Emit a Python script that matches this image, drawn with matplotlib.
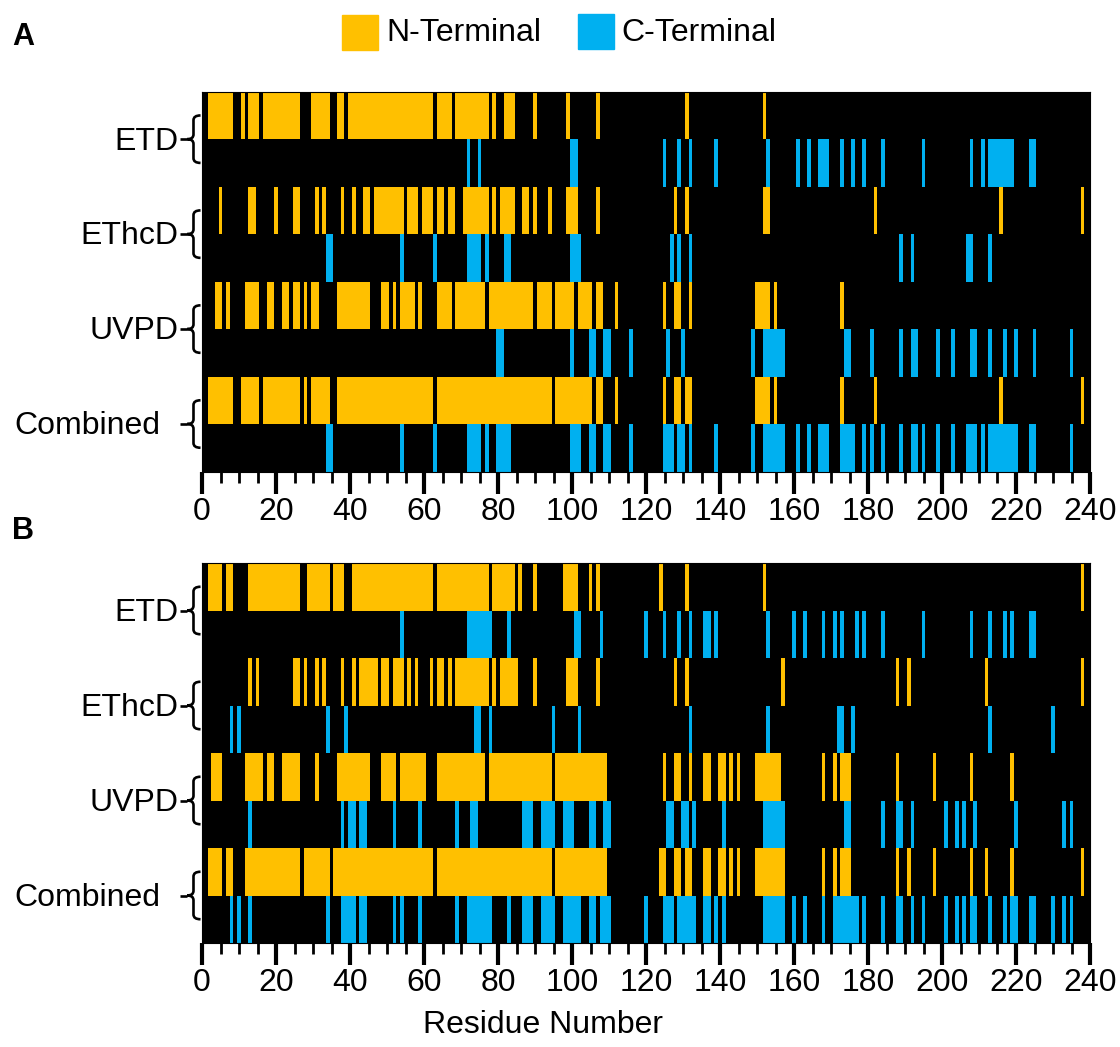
import matplotlib
matplotlib.use('Agg')
import matplotlib.pyplot as plt
from matplotlib.patches import Rectangle, PathPatch
from matplotlib.path import Path

N_COLOR = '#FFC000'
C_COLOR = '#00B0F0'
plt.rcParams['font.family'] = ['Liberation Sans', 'DejaVu Sans']
TEXT_SIZE = 23

methods = ['ETD', 'EThcD', 'UVPD', 'Combined']

# cleavage sites per row: single residue or (first, last) run
# --- panel A ---
a_etd_n = [(2, 8), 11, (13, 15), (17, 26), (30, 34), (37, 38), (40, 62), (64, 67), (69, 77), 79,
           (82, 84), 90, 99, 107, 131, 152]
a_etd_c = [72, 75, (100, 101), 125, 129, 132, 139, 153, 161, 164, (167, 169), 173, 176, 179, 184,
           195, 208, 211, (213, 219), (224, 225)]
a_ethcd_n = [5, (13, 14), 20, (25, 26), 31, 33, 38, 41, (44, 45), (47, 54), (56, 58), (60, 62),
             (64, 65), (67, 68), (71, 77), 79, (81, 84), (87, 88), 90, 94, (99, 101), 107, 128, 131,
             (152, 153), 182, 216, 238]
a_ethcd_c = [(34, 35), 54, 63, (72, 75), 77, (82, 83), (100, 102), 127, 129, 132, 189, 192,
             (207, 208), 213]
a_uvpd_n = [(4, 5), 7, (12, 15), (18, 19), (22, 23), (25, 26), 28, (30, 31), (37, 45), (49, 50), 52,
            (54, 57), 59, (64, 67), (69, 76), (78, 89), (91, 94), (96, 100), (102, 105), (107, 108),
            112, 125, (128, 129), 132, (150, 153), 155, 173]
a_uvpd_c = [(80, 81), 100, (105, 106), (109, 110), 116, 126, 130, 149, (152, 157), (174, 175), 181,
            189, (192, 193), 199, 203, (208, 209), 213, 217, 220, 225, 235]
a_comb_n = [(2, 8), (11, 15), (17, 26), 28, (30, 34), (37, 62), (64, 94), (96, 105), (107, 108), 112,
            125, (128, 129), (131, 132), (150, 153), 155, 173, 182, 216, 238]
a_comb_c = [(34, 35), 54, 63, (72, 75), 77, (80, 83), (100, 102), (105, 106), (109, 110), 116,
            (125, 127), (129, 130), 132, 139, 149, (152, 157), 161, 164, (167, 169), (173, 176), 179,
            181, 184, 189, (192, 193), 195, 199, 203, (207, 209), 211, (213, 220), (224, 225), 235]

# --- panel B ---
b_etd_n = [(2, 5), (7, 8), (13, 26), (29, 34), (36, 38), (41, 62), (64, 77), (79, 84), 86, 90,
           (98, 101), 105, 107, 124, 131, 152, 238]
b_etd_c = [54, (72, 78), 83, (101, 102), 108, 120, 125, 129, 132, (136, 137), 139, 153, 160, 163,
           168, 171, 173, 177, 179, 184, 195, 208, 213, 217, 219, (224, 225)]
b_ethcd_n = [13, 15, (25, 26), 28, 31, 33, 38, 41, (43, 47), (49, 50), (52, 54), 56, 58, 62, (64, 65),
             67, (69, 77), 79, (81, 85), 90, (99, 101), 107, 128, 131, 157, 188, 191, 212, 238]
b_ethcd_c = [8, 10, 34, 39, (74, 75), 78, 95, 102, 132, 153, (172, 173), 176, 213, 230]
b_uvpd_n = [(3, 5), (12, 16), (18, 19), (22, 26), 31, (37, 45), (49, 52), (54, 60), (64, 76), (78, 94),
            (96, 109), 125, (128, 129), 132, (136, 137), (140, 141), 143, 145, (150, 156), 168, 171,
            (173, 175), 188, 198, 208, 219]
b_uvpd_c = [13, 38, (40, 41), (43, 44), 52, 59, 69, (73, 74), (87, 89), (92, 95), (98, 100),
            (105, 106), (109, 110), (126, 127), (130, 131), 133, 141, (152, 157), (174, 175), 184,
            (188, 189), 192, 201, 204, 206, 209, 220, 233, 235]
b_comb_n = [(2, 5), (7, 8), (12, 26), (28, 34), (36, 62), (64, 94), (96, 109), (124, 125), (128, 129),
            (131, 132), (136, 137), (140, 141), 143, 145, (150, 157), 168, 171, (173, 175), 188, 191,
            198, 208, 212, 219, 238]
b_comb_c = [8, 10, 13, 34, (38, 41), (43, 44), 52, 54, 59, 69, (72, 78), 83, (87, 89), (92, 95),
            (98, 102), (105, 106), (108, 110), 120, (125, 127), (129, 133), (136, 137), 139, 141,
            (152, 157), 160, 163, 168, (171, 177), 179, 184, (188, 189), 192, 195, 201, 204, 206,
            (208, 209), 213, 217, (219, 220), (224, 225), 230, 233, 235]

panel_a = [(a_etd_n, a_etd_c), (a_ethcd_n, a_ethcd_c), (a_uvpd_n, a_uvpd_c), (a_comb_n, a_comb_c)]
panel_b = [(b_etd_n, b_etd_c), (b_ethcd_n, b_ethcd_c), (b_uvpd_n, b_uvpd_c), (b_comb_n, b_comb_c)]

W, H = 1120, 1047


def fx(x):
    return x / W


def fy(y):
    return 1 - y / H


def to_runs(sites):
    runs = []
    for s in sites:
        first, last = (s, s) if isinstance(s, int) else s
        runs.append((first - 0.5, last - first + 1))
    return runs


def draw_brace(ax, row):
    top, mid, bot = row + 0.5, row + 1.0, row + 1.5
    xr, xv, xt, xd = -0.4, -2.3, -4.0, -5.9
    k = 0.1
    verts = [(xr, top), (xv, top), (xv, top + k),
             (xv, mid - k), (xv, mid), (xt, mid),
             (xv, mid), (xv, mid + k),
             (xv, bot - k), (xv, bot), (xr, bot)]
    codes = [Path.MOVETO, Path.CURVE3, Path.CURVE3,
             Path.LINETO, Path.CURVE3, Path.CURVE3,
             Path.CURVE3, Path.CURVE3,
             Path.LINETO, Path.CURVE3, Path.CURVE3]
    ax.add_patch(PathPatch(Path(verts, codes), fill=False, lw=1.9, ec='black', clip_on=False,
                           capstyle='butt', joinstyle='miter'))
    ax.plot([xt, xd], [mid, mid], color='black', lw=1.9, clip_on=False, solid_capstyle='butt')


def draw_panel(ax, rows):
    ax.set_facecolor('black')
    for i, (n_sites, c_sites) in enumerate(rows):
        ax.broken_barh(to_runs(n_sites), (2 * i, 1), facecolors=N_COLOR, linewidth=0)
        ax.broken_barh(to_runs(c_sites), (2 * i + 1, 1), facecolors=C_COLOR, linewidth=0)
        draw_brace(ax, 2 * i)
        label_x = -11.2 if methods[i] == 'Combined' else -6.3
        ax.text(label_x, 2 * i + 1.05, methods[i], ha='right', va='center', fontsize=TEXT_SIZE,
                clip_on=False)
    ax.set_xlim(0, 240)
    ax.set_ylim(8, 0)
    ax.set_yticks([])
    ax.set_xticks(range(0, 241, 20))
    ax.set_xticks(range(0, 241, 5), minor=True)
    ax.tick_params(axis='x', which='major', length=16, width=3, labelsize=TEXT_SIZE, pad=2)
    ax.tick_params(axis='x', which='minor', length=8, width=2)
    for sp in ax.spines.values():
        sp.set_color('black')


fig = plt.figure(figsize=(11.2, 10.47), dpi=100)

ax_a = fig.add_axes([fx(202), fy(471.5), fx(888), 379.8 / H])
ax_b = fig.add_axes([fx(202), fy(943), fx(888), 380 / H])
draw_panel(ax_a, panel_a)
draw_panel(ax_b, panel_b)

fig.text(fx(12), fy(37), 'A', fontsize=22, fontweight='bold', va='center', ha='left')
fig.text(fx(12), fy(531), 'B', fontsize=22, fontweight='bold', va='center', ha='left')

# legend
fig.add_artist(Rectangle((fx(342), fy(50)), fx(36), 35 / H, color=N_COLOR,
                         transform=fig.transFigure))
fig.text(fx(386), fy(33), 'N-Terminal', fontsize=TEXT_SIZE, va='center', ha='left')
fig.add_artist(Rectangle((fx(578), fy(49)), fx(36), 35 / H, color=C_COLOR,
                         transform=fig.transFigure))
fig.text(fx(621), fy(33), 'C-Terminal', fontsize=TEXT_SIZE, va='center', ha='left')

fig.text(fx(543), fy(1025), 'Residue Number', fontsize=TEXT_SIZE, va='center', ha='center')

fig.savefig('out.png', dpi=100, facecolor='white')
